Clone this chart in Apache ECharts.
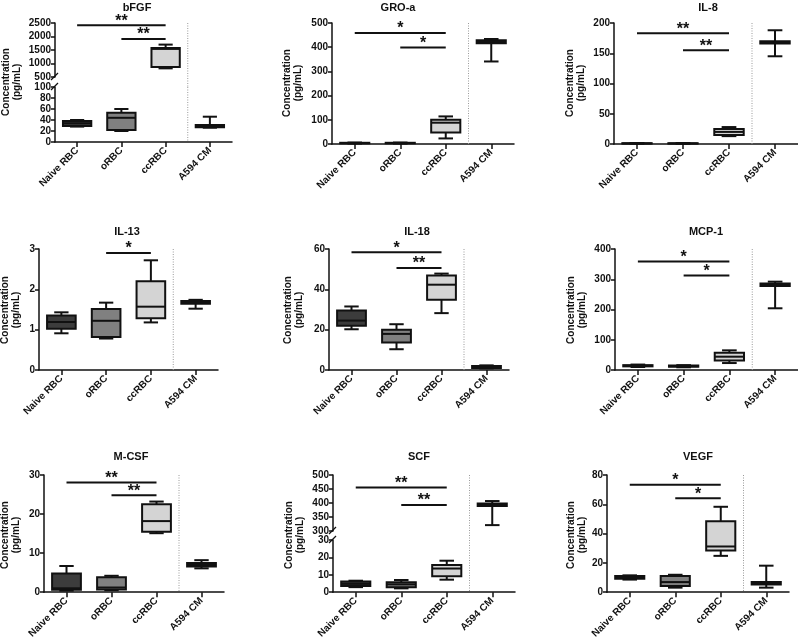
<!DOCTYPE html>
<html><head><meta charset="utf-8">
<script src="https://cdn.jsdelivr.net/npm/echarts@6/dist/echarts.min.js"></script>
<style>html,body{margin:0;padding:0;background:#fff}#c{width:798px;height:641px}</style>
</head><body><div id="c"></div>
<script>
// ---------------- DATA ----------------
const categories = ['Naive RBC', 'oRBC', 'ccRBC', 'A594 CM'];
// each group: [min, q1, median, q3, max]  (order: Naive RBC, oRBC, ccRBC, A594 CM)
const bFGF  = [[28,29,34,38,40],[20,22,44,53,60],[820,870,1540,1570,1700],[26,27,29,31,46]];
const GROa  = [[2,3,4,5,6],[2,3,4,5,6],[23,48,88,100,114],[341,416,422,429,434]];
const IL8   = [[0.5,0.8,1,1.3,1.6],[0.5,0.8,1,1.2,1.5],[13,15,20,25,28],[145,166,168,170,188]];
const IL13  = [[0.91,1.02,1.19,1.35,1.43],[0.78,0.82,1.22,1.51,1.67],[1.18,1.28,1.57,2.2,2.72],[1.52,1.64,1.67,1.71,1.74]];
const IL18  = [[20.2,21.9,24.5,29.5,31.5],[10.3,13.6,17.9,19.9,22.7],[28.2,34.8,42.3,46.9,47.8],[0.8,1.0,1.5,2.0,2.3]];
const MCP1  = [[10,12,14,16,18],[9,11,13,15,16],[23,31,44,57,65],[204,278,282,286,292]];
const MCSF  = [[0.4,0.6,1.0,4.8,6.7],[0.5,0.7,1.2,3.8,4.2],[15.1,15.5,18.2,22.5,23.2],[6.1,6.6,7.0,7.5,8.2]];
const SCF   = [[2.9,3.6,4.8,6.1,6.6],[2.2,2.9,4.5,5.7,7.0],[7.2,9.2,13.6,15.6,18.1],[321,389,393,398,407]];
const VEGF  = [[8.6,9.1,10.2,11,11.5],[3.1,4.2,6.9,11,11.9],[24.8,28.5,31.2,48.4,58.3],[3.1,5.3,6.2,6.9,18.1]];

// significance bars: [fromGroup, toGroup, yValue, numberOfStars]
const sigBFGF = [[0,2,2414,2],[1,2,1911,2]];
const sigGROa = [[0,2,459,1],[1,2,399,1]];
const sigIL8  = [[0,2,183,2],[1,2,155,2]];
const sigIL13 = [[1,2,2.9,1]];
const sigIL18 = [[0,2,58.4,1],[1,2,50.6,2]];
const sigMCP1 = [[0,2,359,1],[1,2,312,1]];
const sigMCSF = [[0,2,28.1,2],[1,2,24.8,2]];
const sigSCF  = [[0,2,455,2],[1,2,393,2]];
const sigVEGF = [[0,2,73.4,1],[1,2,64.1,1]];

// y-axis segments (top segment first): [min, max, interval]
const axBFGF = [[500,2500,500],[0,100,20]];
const axGROa = [[0,500,100]];
const axIL8  = [[0,200,50]];
const axIL13 = [[0,3,1]];
const axIL18 = [[0,60,20]];
const axMCP1 = [[0,400,100]];
const axMCSF = [[0,30,10]];
const axSCF  = [[300,500,50],[0,30,10]];
const axVEGF = [[0,80,20]];

const titles = ['bFGF','GRO-a','IL-8','IL-13','IL-18','MCP-1','M-CSF','SCF','VEGF'];
const yName = 'Concentration\n(pg/mL)';

// ---------------- LAYOUT ----------------
const layout = [
  {left:55,  width:177, segs:[{top:23,height:54},{top:87,height:55}], title:[137,8],  name:[11.5,82]},
  {left:332, width:182, segs:[{top:23,height:121}], title:[398,8],  name:[293,83]},
  {left:614, width:184, segs:[{top:23,height:121}], title:[708,8],  name:[576,83]},
  {left:39,  width:179, segs:[{top:249,height:121}], title:[127,232], name:[10.5,310]},
  {left:329, width:180, segs:[{top:249,height:121}], title:[417,232], name:[294,310]},
  {left:615, width:183, segs:[{top:249,height:121}], title:[706,232], name:[577,310]},
  {left:44,  width:180, segs:[{top:475,height:121}], title:[131,457], name:[11,535]},
  {left:333, width:182, segs:[{top:475,height:56},{top:540,height:56}], title:[419,457], name:[294.5,535]},
  {left:607, width:182, segs:[{top:475,height:121}], title:[698,457], name:[577,535]}
];

const panels = [
  {data:bFGF, sig:sigBFGF, ax:axBFGF},
  {data:GROa, sig:sigGROa, ax:axGROa},
  {data:IL8,  sig:sigIL8,  ax:axIL8},
  {data:IL13, sig:sigIL13, ax:axIL13},
  {data:IL18, sig:sigIL18, ax:axIL18},
  {data:MCP1, sig:sigMCP1, ax:axMCP1},
  {data:MCSF, sig:sigMCSF, ax:axMCSF},
  {data:SCF,  sig:sigSCF,  ax:axSCF},
  {data:VEGF, sig:sigVEGF, ax:axVEGF}
];

const FONT = '"Liberation Sans", Arial, Helvetica, sans-serif';
const INK = '#111';
const fills = ['#3c3c3c', '#808080', '#d4d4d4', '#111111'];

const grids = [], xAxes = [], yAxes = [], series = [], graphics = [];

function inRange(r, v) { return v >= r[0] && v <= r[1]; }

panels.forEach((p, pi) => {
  const L = layout[pi];
  const nseg = p.ax.length;
  p.ax.forEach((r, si) => {
    const gi = grids.length;
    const seg = L.segs[si];
    const isBottom = si === nseg - 1;
    grids.push({left: L.left, top: seg.top, width: L.width, height: seg.height});
    xAxes.push({
      gridIndex: gi, type: 'category', data: categories, boundaryGap: true, show: isBottom,
      axisLine: {show: true, lineStyle: {color: INK, width: 1.5}},
      axisTick: {show: true, alignWithLabel: true, length: 5, lineStyle: {color: INK, width: 1.5}},
      axisLabel: {interval: 0, rotate: 45, margin: 7, color: INK, fontFamily: FONT, fontWeight: 'bold', fontSize: 10},
      splitLine: {show: false}
    });
    yAxes.push({
      gridIndex: gi, type: 'value', min: r[0], max: r[1], interval: r[2],
      axisLine: {show: true, lineStyle: {color: INK, width: 1.5}},
      axisTick: {show: true, length: 4, lineStyle: {color: INK, width: 1.5}},
      axisLabel: {margin: 4, color: INK, fontFamily: FONT, fontWeight: 'bold', fontSize: 10,
        formatter: v => String(v)},
      splitLine: {show: false}
    });

    // divider between ccRBC and A594 CM (+ break marks)
    const extend = isBottom ? 0 : (L.segs[si + 1].top - (seg.top + seg.height));
    const breakTop = nseg > 1 && si > 0;
    const breakBottom = nseg > 1 && !isBottom;
    series.push({
      type: 'custom', xAxisIndex: gi, yAxisIndex: gi, silent: true, z: 1,
      data: [[0, r[0]]],
      renderItem: (params, api) => {
        const cs = params.coordSys;
        const x = (api.coord([2, r[0]])[0] + api.coord([3, r[0]])[0]) / 2;
        const ch = [{type: 'line', shape: {x1: x, y1: cs.y, x2: x, y2: cs.y + cs.height + extend},
          style: {stroke: '#9a9a9a', lineWidth: 1, lineDash: [1, 1.5]}}];
        if (breakBottom) {
          const yb = cs.y + cs.height;
          ch.push({type: 'line', shape: {x1: cs.x - 4, y1: yb + 3, x2: cs.x + 3, y2: yb - 4}, style: {stroke: INK, lineWidth: 1.3}});
        }
        if (breakTop) {
          const yt = cs.y;
          ch.push({type: 'line', shape: {x1: cs.x - 4, y1: yt + 3, x2: cs.x + 3, y2: yt - 4}, style: {stroke: INK, lineWidth: 1.3}});
        }
        return {type: 'group', children: ch};
      }
    });

    // boxes whose median falls into this segment
    const groups = [];
    p.data.forEach((v, idx) => { if (inRange(r, v[2])) groups.push({idx, v}); });
    if (groups.length) {
      series.push({
        type: 'custom', xAxisIndex: gi, yAxisIndex: gi, silent: true, z: 3,
        data: groups.map(g => [g.idx].concat(g.v)),
        renderItem: (params, api) => {
          const g = groups[params.dataIndex];
          const i = g.idx, v = g.v;
          const Y = val => api.coord([i, val])[1];
          const cx = api.coord([i, v[2]])[0];
          const bw = api.size([1, 0])[0] * 0.64;
          const cap = bw * 0.25;
          const st = {stroke: INK, lineWidth: 2};
          return {type: 'group', children: [
            {type: 'line', shape: {x1: cx, y1: Y(v[0]), x2: cx, y2: Y(v[1])}, style: st},
            {type: 'line', shape: {x1: cx, y1: Y(v[3]), x2: cx, y2: Y(v[4])}, style: st},
            {type: 'line', shape: {x1: cx - cap, y1: Y(v[0]), x2: cx + cap, y2: Y(v[0])}, style: st},
            {type: 'line', shape: {x1: cx - cap, y1: Y(v[4]), x2: cx + cap, y2: Y(v[4])}, style: st},
            {type: 'rect', shape: {x: cx - bw / 2, y: Y(v[3]), width: bw, height: Y(v[1]) - Y(v[3])},
              style: {fill: fills[i], stroke: INK, lineWidth: 2}},
            {type: 'line', shape: {x1: cx - bw / 2, y1: Y(v[2]), x2: cx + bw / 2, y2: Y(v[2])}, style: st}
          ]};
        }
      });
    }

    // significance bars in this segment
    const sigs = p.sig.filter(s => inRange(r, s[2]));
    if (sigs.length) {
      series.push({
        type: 'custom', xAxisIndex: gi, yAxisIndex: gi, silent: true, z: 4,
        data: sigs.map(s => [s[0], s[2]]),
        renderItem: (params, api) => {
          const s = sigs[params.dataIndex];
          const a = api.coord([s[0], s[2]]), b = api.coord([s[1], s[2]]);
          return {type: 'group', children: [
            {type: 'line', shape: {x1: a[0], y1: a[1], x2: b[0], y2: b[1]}, style: {stroke: INK, lineWidth: 2}},
            {type: 'text', x: (a[0] + b[0]) / 2, y: a[1] + 4,
              style: {text: '*'.repeat(s[3]), font: 'bold 16px ' + FONT, fill: INK, align: 'center', verticalAlign: 'bottom'}}
          ]};
        }
      });
    }
  });

  graphics.push({type: 'text', x: L.title[0], y: L.title[1], silent: true,
    style: {text: titles[pi], font: 'bold 11px ' + FONT, fill: INK, align: 'center', verticalAlign: 'middle'}});
  graphics.push({type: 'text', x: L.name[0], y: L.name[1], rotation: Math.PI / 2, silent: true,
    style: {text: yName, font: 'bold 10px ' + FONT, fill: INK, align: 'center', verticalAlign: 'middle', lineHeight: 11}});
});

const chart = echarts.init(document.getElementById('c'), null, {renderer: 'canvas'});
chart.setOption({
  backgroundColor: '#fff',
  animation: false,
  grid: grids, xAxis: xAxes, yAxis: yAxes, series: series, graphic: graphics
});
</script>
</body></html>
